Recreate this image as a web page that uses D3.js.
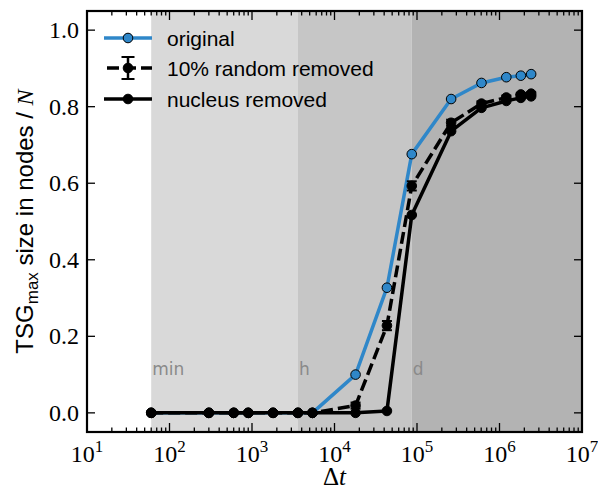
<!DOCTYPE html>
<html><head><meta charset="utf-8">
<script src="https://cdn.jsdelivr.net/npm/d3@7"></script>
<style>body{margin:0;background:#fff}</style>
</head><body>
<svg id="c" width="598" height="491"></svg>
<script>
// ---- data ----
const times = [60,300,600,900,1800,3600,5400,18000,43200,86400,259200,604800,1209600,1814400,2419200];
const original = [0,0,0,0,0,0,0,0.100,0.327,0.676,0.820,0.862,0.877,0.881,0.885];
const randomRemoved = [0,0,0,0,0,0,0,0.019,0.228,0.593,0.758,0.808,0.824,0.832,0.834];
const randomErr = [0,0,0,0,0,0,0.002,0.008,0.012,0.012,0.008,0.006,0.005,0.004,0.004];
const nucleusRemoved = [0,0,0,0,0,0,0,0,0.005,0.517,0.736,0.797,0.815,0.823,0.827];
const regionStarts = [60,3600,86400];
const regionEnds = [3600,86400,1e7];
const regionLabels = ["min","h","d"];
const regionColors = ["#d9d9d9","#c6c6c6","#b3b3b3"];
const xTickExps = [1,2,3,4,5,6,7];
const yTicks = [0.0,0.2,0.4,0.6,0.8,1.0];
const legendLabels = ["original","10% random removed","nucleus removed"];

const svg = d3.select("#c");
const L=87,R=582,T=11,B=432;
const x = d3.scaleLog().domain([10,1e7]).range([L,R]);
const y = d3.scaleLinear().domain([-0.05,1.05]).range([B,T]);
const blue = "#2f87c9";

// regions
const g = svg.append("g");
regionStarts.forEach((s,i)=>{
  g.append("rect").attr("x",x(s)).attr("y",T).attr("width",x(regionEnds[i])-x(s)).attr("height",B-T).attr("fill",regionColors[i]);
  g.append("text").attr("x",x(s)+1).attr("y",375).text(regionLabels[i])
   .attr("font-family","DejaVu Sans").attr("font-size",17).attr("fill","#8a8a8a");
});

const line = d3.line().x(d=>x(d[0])).y(d=>y(d[1]));
function series(vals, opts){
  const pts = times.map((t,i)=>[t,vals[i]]);
  svg.append("path").attr("d",line(pts)).attr("fill","none").attr("stroke",opts.color)
    .attr("stroke-width",3.5).attr("stroke-dasharray",opts.dash||null).attr("stroke-linejoin","round");
  if(opts.err){
    pts.forEach((p,i)=>{
      const e=opts.err[i]; if(!e) return;
      const cx=x(p[0]);
      svg.append("line").attr("x1",cx).attr("x2",cx).attr("y1",y(p[1]-e)).attr("y2",y(p[1]+e)).attr("stroke","#000").attr("stroke-width",2.5);
      [p[1]-e,p[1]+e].forEach(v=>svg.append("line").attr("x1",cx-5).attr("x2",cx+5).attr("y1",y(v)).attr("y2",y(v)).attr("stroke","#000").attr("stroke-width",2));
    });
  }
  svg.append("g").selectAll("circle").data(pts).join("circle")
    .attr("cx",d=>x(d[0])).attr("cy",d=>y(d[1])).attr("r",4.8)
    .attr("fill",opts.color).attr("stroke","#000").attr("stroke-width",1);
}
series(original,{color:blue});
series(randomRemoved,{color:"#000",dash:"12,5",err:randomErr});
series(nucleusRemoved,{color:"#000"});

// frame & ticks
const ax = svg.append("g").attr("stroke","#000").attr("stroke-width",1.3);
xTickExps.forEach(e=>{
  const v=Math.pow(10,e), px=x(v);
  ax.append("line").attr("x1",px).attr("x2",px).attr("y1",B).attr("y2",B-9);
  ax.append("line").attr("x1",px).attr("x2",px).attr("y1",T).attr("y2",T+9);
  if(e<7) for(let k=2;k<10;k++){
    const mx=x(k*v);
    ax.append("line").attr("x1",mx).attr("x2",mx).attr("y1",B).attr("y2",B-4.5);
    ax.append("line").attr("x1",mx).attr("x2",mx).attr("y1",T).attr("y2",T+4.5);
  }
  const t=svg.append("text").attr("x",px).attr("y",462).attr("text-anchor","middle")
    .attr("font-family","Liberation Serif").attr("font-size",24);
  t.append("tspan").text("10");
  t.append("tspan").text(e).attr("font-size",17).attr("dy",-10);
});
yTicks.forEach(v=>{
  const py=y(v);
  ax.append("line").attr("x1",L).attr("x2",L+8).attr("y1",py).attr("y2",py);
  ax.append("line").attr("x1",R).attr("x2",R-8).attr("y1",py).attr("y2",py);
  svg.append("text").attr("x",79).attr("y",py+8).attr("text-anchor","end")
    .attr("font-family","Liberation Serif").attr("font-size",24).text(v.toFixed(1));
});
svg.append("rect").attr("x",L).attr("y",T).attr("width",R-L).attr("height",B-T)
  .attr("fill","none").attr("stroke","#000").attr("stroke-width",2.2);

// axis labels
const yl = svg.append("text").attr("transform",`translate(33,${(T+B)/2}) rotate(-90)`)
  .attr("text-anchor","middle").attr("font-family","Liberation Sans").attr("font-size",24);
yl.append("tspan").text("TSG");
yl.append("tspan").text("max").attr("font-size",17).attr("dy",5);
yl.append("tspan").text(" size in nodes / ").attr("dy",-5);
yl.append("tspan").text("N").attr("font-family","Liberation Serif").attr("font-style","italic");
const xl = svg.append("text").attr("x",(L+R)/2).attr("y",485).attr("text-anchor","middle")
  .attr("font-family","Liberation Serif").attr("font-size",25);
xl.append("tspan").text("Δ");
xl.append("tspan").text("t").attr("font-style","italic");

// legend
const ly=[38,68,99];
legendLabels.forEach((lab,i)=>{
  const cy=ly[i], col=i===0?blue:"#000";
  svg.append("line").attr("x1",104).attr("x2",152).attr("y1",cy).attr("y2",cy)
    .attr("stroke",col).attr("stroke-width",3.5).attr("stroke-dasharray",i===1?"12,5":null).attr("stroke-dashoffset",i===1?14:null);
  if(i===1){
    svg.append("line").attr("x1",128).attr("x2",128).attr("y1",cy-11).attr("y2",cy+11).attr("stroke","#000").attr("stroke-width",2.5);
    [cy-11,cy+11].forEach(v=>svg.append("line").attr("x1",121.5).attr("x2",134.5).attr("y1",v).attr("y2",v).attr("stroke","#000").attr("stroke-width",2));
  }
  svg.append("circle").attr("cx",128).attr("cy",cy).attr("r",4.8).attr("fill",col).attr("stroke","#000").attr("stroke-width",1);
  svg.append("text").attr("x",167).attr("y",cy+8).text(lab)
    .attr("font-family","Liberation Sans").attr("font-size",21).attr("fill","#000");
});
</script>
</body></html>
